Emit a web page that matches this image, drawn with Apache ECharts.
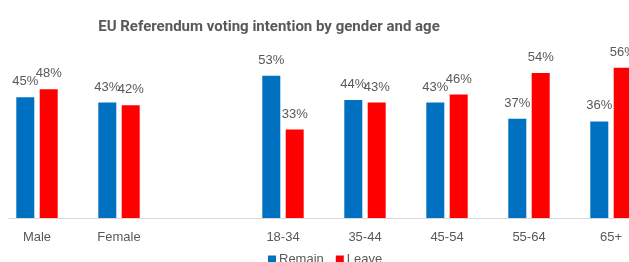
<!DOCTYPE html>
<html><head><meta charset="utf-8">
<script src="https://cdn.jsdelivr.net/npm/echarts@6/dist/echarts.min.js"></script>
<style>html,body{margin:0;padding:0;background:#fff}#c{width:629px;height:262px}</style>
</head><body><div id="c"></div>
<script>
const categories = ['Male', 'Female', '', '18-34', '35-44', '45-54', '55-64', '65+'];
const remain = [45, 43, null, 53, 44, 43, 37, 36];
const leave = [48, 42, null, 33, 43, 46, 54, 56];
const seriesNames = ['Remain', 'Leave'];
const titleText = 'EU Referendum voting intention by gender and age';

const chart = echarts.init(document.getElementById('c'), null, {renderer: 'canvas'});
const lbl = {
  show: true, position: 'top', distance: 9, color: '#595959',
  fontSize: 13, fontFamily: "'Liberation Sans', Arial", formatter: p => p.value + '%'
};
chart.setOption({
  animation: false,
  title: {
    text: titleText, left: 264, textAlign: 'center', top: 15,
    textStyle: {fontSize: 15, fontWeight: 'bold', color: '#595959', fontFamily: "'Liberation Sans Narrow', Roboto, sans-serif"}
  },
  legend: {
    data: seriesNames, left: 263, top: 248, itemWidth: 8, itemHeight: 8, itemGap: 12,
    icon: 'rect', textStyle: {fontSize: 13, color: '#595959', fontFamily: "'Liberation Sans', Arial", padding: [0,0,0,-2]}
  },
  grid: [
    {left: -4, width: 656, top: 57, bottom: 44, containLabel: false, outerBoundsMode: 'none'},
    {left: 9, right: 0, top: 57, bottom: 44, containLabel: false, outerBoundsMode: 'none'}
  ],
  xAxis: [
    {type: 'category', data: categories, gridIndex: 0, axisLine: {show: false}, axisTick: {show: false},
     axisLabel: {color: '#595959', fontSize: 13, margin: 13, fontFamily: "'Liberation Sans', Arial"}},
    {type: 'category', data: [''], gridIndex: 1, axisLine: {show: true, lineStyle: {color: '#d9d9d9', width: 1}},
     axisTick: {show: false}, axisLabel: {show: false}}
  ],
  yAxis: [
    {type: 'value', min: 0, max: 60, gridIndex: 0, show: false, splitLine: {show: false}},
    {type: 'value', min: 0, max: 60, gridIndex: 1, show: false, splitLine: {show: false}}
  ],
  series: [
    {name: seriesNames[0], type: 'bar', data: remain, barWidth: 18, barGap: '30%', itemStyle: {color: '#0070C0'}, label: lbl},
    {name: seriesNames[1], type: 'bar', data: leave, barWidth: 18, barGap: '30%', itemStyle: {color: '#FF0000'}, label: lbl}
  ]
});
</script></body></html>
